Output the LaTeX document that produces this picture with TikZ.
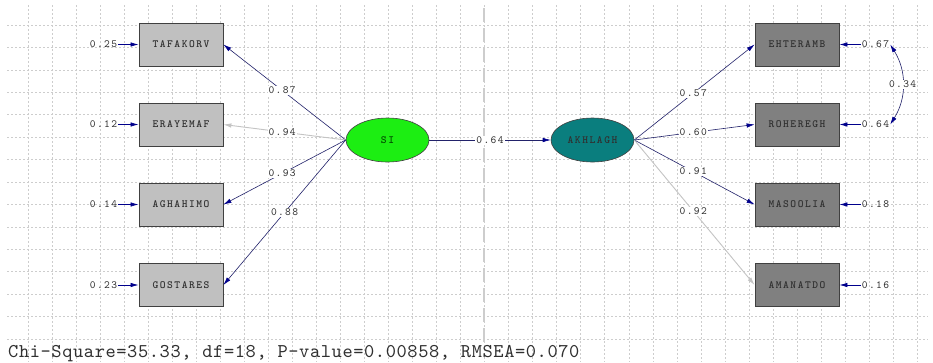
\documentclass[tikz,border=0pt]{standalone}
\usepackage{fontspec}
\newfontfamily\labfam{lmmono10-regular.otf}[LetterSpace=12]
\newfontfamily\vbfam{lmmonolt10-bold.otf}[LetterSpace=14]
\newfontfamily\fitfam{lmmono10-regular.otf}[LetterSpace=3]
\newcommand{\labfont}{\labfam\fontsize{11}{13}\selectfont}
\newcommand{\vbfont}{\vbfam\fontsize{11}{13}\selectfont}
\newcommand{\fitfont}{\fitfam\fontsize{19.5}{22}\selectfont}
\usetikzlibrary{arrows.meta,shapes.geometric}
\definecolor{navyc}{HTML}{00008C}
\definecolor{linec}{HTML}{22226A}
\definecolor{lightline}{HTML}{C4C4C4}
\definecolor{gridc}{HTML}{CDCDCD}
\definecolor{lboxc}{HTML}{C0C0C0}
\definecolor{rboxc}{HTML}{808080}
\definecolor{sic}{HTML}{1CEE12}
\definecolor{akc}{HTML}{0A7E7E}
\definecolor{txtc}{HTML}{303030}
\tikzset{
  gridline/.style={draw=gridc, line width=0.5pt, dash pattern=on 2pt off 2pt},
  midline/.style={draw=gridc, line width=1.4pt, dash pattern=on 14pt off 6pt},
  varbox/.style={rectangle, draw=black!75, line width=0.8pt, minimum width=84pt, minimum height=43pt, inner sep=0pt,
    font=\vbfont, text=txtc},
  lbox/.style={varbox, fill=lboxc},
  rbox/.style={varbox, fill=rboxc},
  latent/.style={ellipse, draw=black!75, line width=0.6pt, minimum width=83pt, minimum height=44pt, inner sep=0pt,
    font=\vbfont},
  lbl/.style={font=\labfont, text=txtc, fill=white, inner sep=1pt},
  errlbl/.style={font=\labfont, text=txtc, inner sep=1pt},
  path/.style={draw=linec, line width=0.6pt, -{Latex[length=8pt,width=4.5pt,fill=navyc,color=navyc]}},
  lightpath/.style={draw=lightline, line width=0.9pt, -{Latex[length=8pt,width=4.5pt]}},
  errarr/.style={draw=navyc, line width=0.7pt, -{Latex[length=8pt,width=4.5pt]}},
}
\begin{document}
\begin{tikzpicture}[x=1pt,y=-1pt]
\useasboundingbox (0,0) rectangle (933,362);
\fill[white] (0,0) rectangle (933,362);
% grid
\foreach \k in {0,...,37} \draw[gridline] ({28+24.03*\k},5) -- ({28+24.03*\k},362);
\foreach \k in {0,...,14} \draw[gridline] (7,{25+22.42*\k}) -- (928,{25+22.42*\k});
\draw[midline] (484,8) -- (484,342);

% observed variables
\node[lbox] (taf) at (181,44.5) {TAFAKORV};
\node[lbox] (era) at (181,124.5) {ERAYEMAF};
\node[lbox] (agh) at (181,204.5) {AGHAHIMO};
\node[lbox] (gos) at (181,285) {GOSTARES};
\node[rbox] (eht) at (797,44.5) {EHTERAMB};
\node[rbox] (roh) at (797,124.5) {ROHEREGH};
\node[rbox] (mas) at (797,204.5) {MASOOLIA};
\node[rbox] (ama) at (797,285) {AMANATDO};

% latent variables
\node[latent, fill=sic, text=black!70!green] (si) at (387.5,140) {SI};
\node[latent, fill=akc, text=txtc] (ak) at (592.5,140) {AKHLAGH};

% loadings
\draw[path] (si.west) -- node[lbl, pos=0.52] {0.87} (taf.east);
\draw[lightpath] (si.west) -- node[lbl, pos=0.52] {0.94} (era.east);
\draw[path] (si.west) -- node[lbl, pos=0.52] {0.93} (agh.east);
\draw[path] (si.west) -- node[lbl, pos=0.5] {0.88} (gos.east);
\draw[path] (si.east) -- node[lbl, pos=0.5] {0.64} (ak.west);
\draw[path] (ak.east) -- node[lbl, pos=0.49] {0.57} (eht.west);
\draw[path] (ak.east) -- node[lbl, pos=0.49] {0.60} (roh.west);
\draw[path] (ak.east) -- node[lbl, pos=0.49] {0.91} (mas.west);
\draw[lightpath] (ak.east) -- node[lbl, pos=0.49] {0.92} (ama.west);

% error variances
\node[errlbl] (e1) at (103.5,44.5) {0.25};
\node[errlbl] (e2) at (103.5,124.5) {0.12};
\node[errlbl] (e3) at (103.5,204.5) {0.14};
\node[errlbl] (e4) at (103.5,285) {0.23};
\node[errlbl] (e5) at (875.5,44.5) {0.67};
\node[errlbl] (e6) at (875.5,124.5) {0.64};
\node[errlbl] (e7) at (875.5,204.5) {0.18};
\node[errlbl] (e8) at (875.5,285) {0.16};
\draw[errarr] (e1.east) -- (taf.west);
\draw[errarr] (e2.east) -- (era.west);
\draw[errarr] (e3.east) -- (agh.west);
\draw[errarr] (e4.east) -- (gos.west);
\draw[errarr] (e5.west) -- (eht.east);
\draw[errarr] (e6.west) -- (roh.east);
\draw[errarr] (e7.west) -- (mas.east);
\draw[errarr] (e8.west) -- (ama.east);

% covariance
\draw[draw=linec, line width=0.6pt, {Latex[length=8pt,width=4.5pt,fill=navyc,color=navyc]}-{Latex[length=8pt,width=4.5pt,fill=navyc,color=navyc]}]
  (e5.east) to[bend left=32] node[lbl, midway] {0.34} (e6.east);

% fit statistics
\node[anchor=base west, inner sep=0pt, font=\fitfont, text=txtc] (fit) at (8,357)
  {Chi-Square=35.33, df=18, P-value=0.00858, RMSEA=0.070};
\end{tikzpicture}
\end{document}
